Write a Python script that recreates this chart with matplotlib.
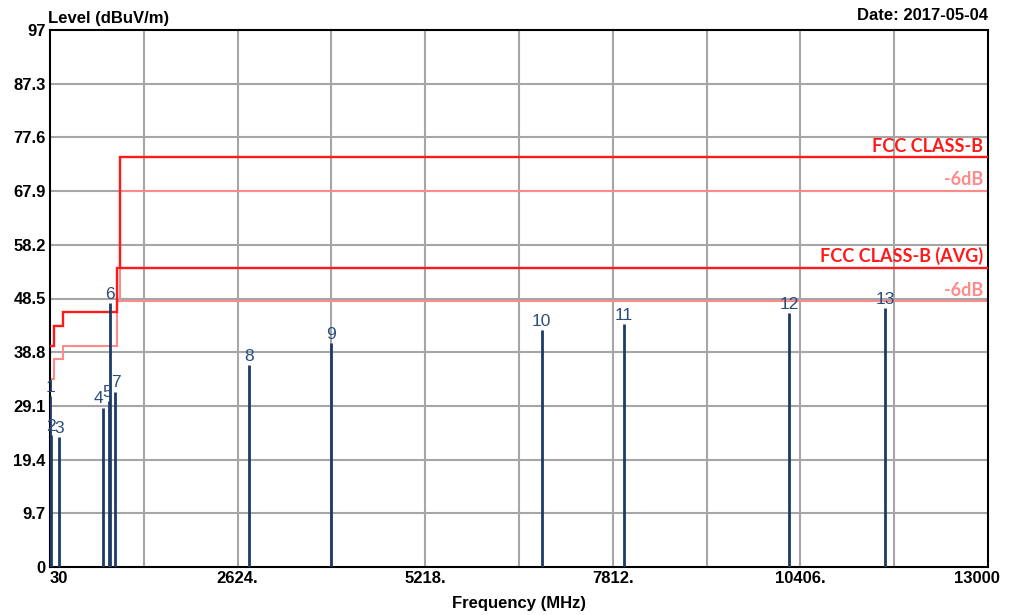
import matplotlib
matplotlib.use("Agg")
import matplotlib.pyplot as plt
import matplotlib.transforms as mtransforms
import numpy as np

# Data
freq_lo, freq_hi = 30, 13000
level_lo, level_hi = 0, 97

# limit lines (step edges in MHz and levels in dBuV/m)
limit_edges = [30, 88, 216, 960, 1000, 13000]
limit_qp = [40, 43.5, 46, 54, 74]
limit_qp_6db = [34, 37.5, 40, 48, 68]
avg_edges = [1000, 13000]
limit_avg = [54]
limit_avg_6db = [48]

# measured points
marker_ids = ["1", "2", "3", "4", "5", "6", "7", "8", "9", "10", "11", "12", "13"]
marker_freq = [31, 45, 154, 759, 842, 864, 929, 2782, 3916, 6829, 7967, 10249, 11576]
marker_level = [30.8, 23.8, 23.5, 28.8, 30.0, 47.6, 31.7, 36.5, 40.4, 42.8, 43.9, 45.8, 46.7]

x_ticks = [30, 2624, 5218, 7812, 10406, 13000]
x_tick_labels = ["30", "2624.", "5218.", "7812.", "10406.", "13000"]
y_ticks = [0, 9.7, 19.4, 29.1, 38.8, 48.5, 58.2, 67.9, 77.6, 87.3, 97]
y_tick_labels = ["0", "9.7", "19.4", "29.1", "38.8", "48.5", "58.2", "67.9", "77.6", "87.3", "97"]

plt.rcParams['font.family'] = ['Liberation Sans', 'DejaVu Sans']

fig = plt.figure(figsize=(10.09, 6.15), dpi=100)
ax = fig.add_axes([50 / 1009, 48 / 615, 938 / 1009, 537 / 615])

ax.set_xlim(freq_lo, freq_hi)
ax.set_ylim(level_lo, level_hi)

# grid
for gx in np.linspace(freq_lo, freq_hi, 11)[1:-1]:
    ax.axvline(gx, color="#a6a6a6", lw=1.5, zorder=1)
for gy in y_ticks[1:-1]:
    ax.axhline(gy, color="#a6a6a6", lw=1.5, zorder=1)

red = "#ff1a1a"
light_red = "#ff8a8a"

ax.stairs(limit_qp_6db, limit_edges, color=light_red, lw=1.5, zorder=2, baseline=None)
ax.stairs(limit_avg_6db, avg_edges, color=light_red, lw=1.5, zorder=2, baseline=None)
ax.stairs(limit_qp, limit_edges, color=red, lw=1.7, zorder=3, baseline=None)
ax.stairs(limit_avg, avg_edges, color=red, lw=1.7, zorder=3, baseline=None)

lim_font = dict(family=['Lato', 'DejaVu Sans'], fontweight="bold", fontsize=13, ha="right", va="bottom")
ax.text(12930, limit_qp[-1] + 0.5, "FCC CLASS-B", color=red, **lim_font)
ax.text(12930, limit_qp_6db[-1] + 0.5, "-6dB", color=light_red, **lim_font)
ax.text(12930, limit_avg[-1] + 0.5, "FCC CLASS-B (AVG)", color=red, **lim_font)
ax.text(12930, limit_avg_6db[-1] + 0.5, "-6dB", color=light_red, **lim_font)

# markers
ax.vlines(marker_freq, 0, marker_level, color="#1c3b66", lw=2, zorder=4)
label_dx = {"4": -3, "5": -1, "7": 1}
for mid, f, lv in zip(marker_ids, marker_freq, marker_level):
    ax.annotate(mid, (f, lv), xytext=(label_dx.get(mid, 0), 1), textcoords="offset points",
                ha="center", va="bottom", fontsize=12.5, color="#2b4d7e", zorder=5)

ax.set_xticks(x_ticks)
ax.set_xticklabels(x_tick_labels, fontweight="bold", fontsize=12)
ax.set_yticks(y_ticks)
ax.set_yticklabels(y_tick_labels, fontweight="bold", fontsize=12)
ax.tick_params(length=0, pad=3)
for lbl in ax.get_xticklabels():
    if lbl.get_text() == "30":
        lbl.set_ha("left")
    elif lbl.get_text() == "13000":
        lbl.set_ha("right")
        lbl.set_transform(lbl.get_transform() + mtransforms.ScaledTranslation(12 / 100, 0, fig.dpi_scale_trans))
for s in ax.spines.values():
    s.set_linewidth(1.5)

ax.set_xlabel("Frequency (MHz)", fontweight="bold", fontsize=12, labelpad=7)
fig.text(48 / 1009, 1 - 18 / 615, "Level (dBuV/m)", fontweight="bold", fontsize=12, va="center", ha="left")
fig.text(988 / 1009, 1 - 16 / 615, "Date: 2017-05-04", fontweight="bold", fontsize=12, va="center", ha="right")

fig.savefig("out.png", dpi=100)
